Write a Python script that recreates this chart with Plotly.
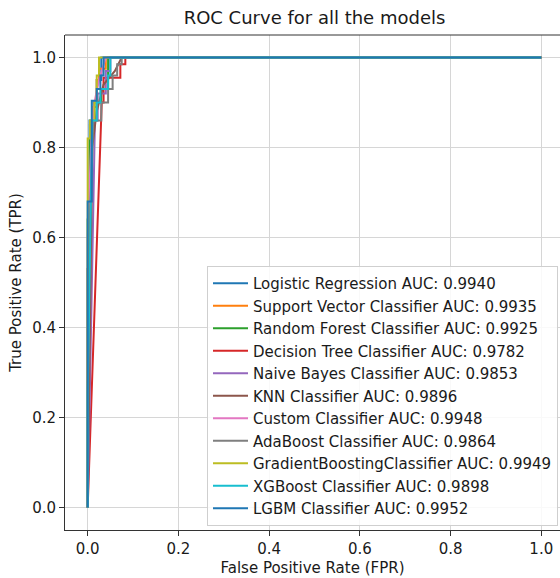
import plotly.graph_objects as go

models = [
    "Logistic Regression", "Support Vector Classifier", "Random Forest Classifier",
    "Decision Tree Classifier", "Naive Bayes Classifier", "KNN Classifier",
    "Custom Classifier", "AdaBoost Classifier", "GradientBoostingClassifier",
    "XGBoost Classifier", "LGBM Classifier",
]
auc_scores = [0.9940, 0.9935, 0.9925, 0.9782, 0.9853, 0.9896, 0.9948, 0.9864, 0.9949, 0.9898, 0.9952]
colors = ["#1f77b4", "#ff7f0e", "#2ca02c", "#d62728", "#9467bd", "#8c564b",
          "#e377c2", "#7f7f7f", "#bcbd22", "#17becf", "#1f77b4"]

fpr_lr = [0, 0, 0.004, 0.004, 0.013, 0.013, 0.020, 0.020, 0.030, 0.030, 1]
tpr_lr = [0, 0.53, 0.53, 0.86, 0.86, 0.90, 0.90, 0.95, 0.95, 1.0, 1.0]

fpr_svc = [0, 0, 0.006, 0.006, 0.012, 0.012, 0.020, 0.020, 0.025, 0.025, 0.040, 0.040, 1]
tpr_svc = [0, 0.53, 0.53, 0.84, 0.84, 0.89, 0.89, 0.95, 0.95, 0.975, 0.975, 1.0, 1.0]

fpr_rf = [0, 0, 0.005, 0.005, 0.015, 0.015, 0.030, 0.030, 0.045, 0.045, 1]
tpr_rf = [0, 0.64, 0.64, 0.85, 0.85, 0.90, 0.90, 0.93, 0.93, 1.0, 1.0]

fpr_dt = [0, 0.031, 0.035, 0.035, 0.072, 0.072, 0.083, 0.083, 1]
tpr_dt = [0, 0.90, 0.90, 0.955, 0.955, 0.985, 0.985, 1.0, 1.0]

fpr_nb = [0, 0.016, 0.016, 0.022, 0.022, 0.040, 0.040, 0.050, 0.050, 1]
tpr_nb = [0, 0.82, 0.86, 0.86, 0.92, 0.92, 0.97, 0.97, 1.0, 1.0]

fpr_knn = [0, 0.010, 0.020, 0.035, 0.060, 0.075, 1]
tpr_knn = [0, 0.80, 0.88, 0.94, 0.97, 1.0, 1.0]

fpr_cc = [0, 0, 0.008, 0.015, 0.025, 0.035, 0.040, 1]
tpr_cc = [0, 0.60, 0.82, 0.90, 0.95, 0.98, 1.0, 1.0]

fpr_ada = [0, 0.003, 0.010, 0.012, 0.030, 0.030, 0.045, 0.045, 0.055, 0.055, 0.065, 0.065, 0.075, 0.075, 1]
tpr_ada = [0, 0.60, 0.78, 0.86, 0.86, 0.90, 0.90, 0.93, 0.93, 0.96, 0.96, 0.985, 0.985, 1.0, 1.0]

fpr_gb = [0, 0, 0.005, 0.005, 0.015, 0.015, 0.020, 0.020, 0.025, 0.025, 1]
tpr_gb = [0, 0.82, 0.82, 0.86, 0.86, 0.90, 0.90, 0.96, 0.96, 1.0, 1.0]

fpr_xgb = [0, 0, 0.010, 0.020, 0.020, 0.028, 0.028, 0.045, 0.045, 0.050, 0.050, 1]
tpr_xgb = [0, 0.25, 0.86, 0.86, 0.90, 0.90, 0.93, 0.93, 0.96, 0.96, 1.0, 1.0]

fpr_lgbm = [0, 0, 0.009, 0.009, 0.020, 0.020, 0.028, 0.028, 0.035, 0.035, 1]
tpr_lgbm = [0, 0.68, 0.68, 0.904, 0.904, 0.93, 0.93, 0.96, 0.96, 1.0, 1.0]

fprs = [fpr_lr, fpr_svc, fpr_rf, fpr_dt, fpr_nb, fpr_knn, fpr_cc, fpr_ada, fpr_gb, fpr_xgb, fpr_lgbm]
tprs = [tpr_lr, tpr_svc, tpr_rf, tpr_dt, tpr_nb, tpr_knn, tpr_cc, tpr_ada, tpr_gb, tpr_xgb, tpr_lgbm]

tick_vals = [0.0, 0.2, 0.4, 0.6, 0.8, 1.0]

FONT = "DejaVu Sans"
TXT = "#1a1a1a"
fig = go.Figure()
for m, a, c, fx, ty in zip(models, auc_scores, colors, fprs, tprs):
    fig.add_trace(go.Scatter(
        x=fx, y=ty, mode="lines", name=f"{m} AUC: {a:.4f}",
        line=dict(color=c, width=2),
    ))

axis_common = dict(
    showgrid=True, gridcolor="#d6d6d6", gridwidth=1, zeroline=False,
    showline=True, linecolor="#333333", linewidth=1, mirror=False,
    ticks="outside", ticklen=5, tickwidth=1, tickcolor="#333333",
    tickvals=tick_vals, tickformat=".1f",
    tickfont=dict(family=FONT, size=15, color=TXT),
    automargin=False,
)

fig.update_layout(
    width=560, height=578,
    margin=dict(l=65, r=0, t=35, b=48),
    paper_bgcolor="white", plot_bgcolor="white",
    font=dict(family=FONT, size=15, color=TXT),
    title=dict(text="ROC Curve for all the models", x=314.5 / 560, xanchor="center",
               y=1 - 18 / 578, yanchor="middle",
               font=dict(family=FONT, size=18, color=TXT)),
    xaxis=dict(axis_common, range=[-0.05, -0.05 + 495 / 453.6],
               title=dict(text="False Positive Rate (FPR)", standoff=5,
                          font=dict(family=FONT, size=15, color=TXT))),
    yaxis=dict(axis_common, range=[-0.05, 1.05],
               title=dict(text="True Positive Rate (TPR)", standoff=6,
                          font=dict(family=FONT, size=15, color=TXT))),
    legend=dict(x=(207 - 65) / 495, y=(530 - 266) / 495, xanchor="left", yanchor="top",
                bgcolor="rgba(255,255,255,0.85)", bordercolor="#cfcfcf", borderwidth=1,
                font=dict(family=FONT, size=15, color=TXT),
                itemwidth=35, tracegroupgap=0),
    showlegend=True,
)
fig.add_shape(type="line", xref="paper", yref="paper", x0=0, x1=1, y0=1, y1=1,
              line=dict(color="#333333", width=1))

fig.write_html("out.html")
